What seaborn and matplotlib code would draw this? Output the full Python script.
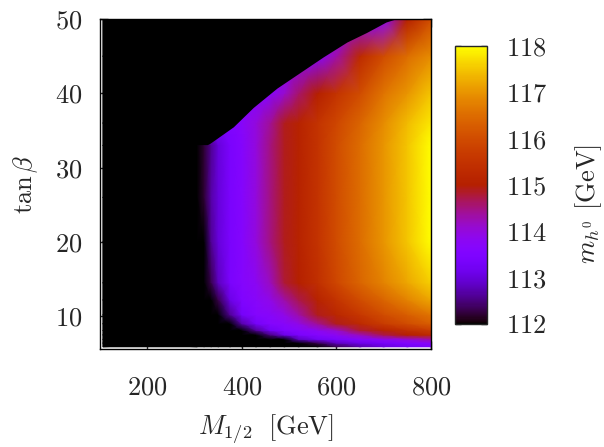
import numpy as np
import matplotlib
matplotlib.use("Agg")
import matplotlib.pyplot as plt
import seaborn as sns

sns.set_style("ticks")
plt.rcParams['font.family'] = 'cmr10'
plt.rcParams['mathtext.fontset'] = 'cm'
plt.rcParams['axes.formatter.use_mathtext'] = True

# grid nodes
m_half = [106, 305, 320, 335, 350, 375, 400, 430, 460, 490, 520, 560, 600, 650, 700, 750, 800]
tan_beta = [5.9, 6.4, 6.9, 7.5, 8.1, 9.0, 10.2, 12.2, 14.5, 20, 26, 33, 36, 40, 45, 50]

# m_h0 [GeV] per tan(beta) row, one value per M_1/2 node (<112 shows black)
mh_t5_9 = [110, 110, 110, 110, 110, 110, 110, 110, 110, 110, 110, 111.5, 112.3, 112.7, 113.0, 113.2, 113.4]
mh_t6_4 = [110, 110, 110, 110, 110, 110, 110, 110, 110, 110, 111.3, 112.3, 112.8, 113.1, 113.3, 113.5, 113.7]
mh_t6_9 = [110, 110, 110, 110, 110, 110, 110, 110, 111.0, 112.0, 112.8, 113.2, 113.4, 113.6, 113.8, 114.0, 114.3]
mh_t7_5 = [110, 110, 110, 110, 110, 110, 110, 111.6, 112.5, 113.1, 113.4, 113.6, 113.8, 114.2, 114.7, 115.0, 115.3]
mh_t8_1 = [110, 110, 110, 110, 110, 110, 111.6, 112.6, 113.2, 113.5, 113.6, 113.8, 114.1, 114.8, 115.1, 115.4, 115.7]
mh_t9 = [110, 110, 110, 110, 110, 111.5, 112.7, 113.3, 113.6, 113.7, 113.9, 114.4, 114.9, 115.3, 115.7, 116.0, 116.3]
mh_t10 = [110, 110, 110, 110, 111.2, 112.6, 113.3, 113.6, 113.7, 113.9, 114.3, 114.9, 115.2, 115.6, 116.0, 116.3, 116.6]
mh_t12 = [110, 110, 110, 111.0, 112.3, 113.1, 113.5, 113.7, 113.9, 114.3, 114.7, 115.1, 115.5, 116.0, 116.4, 116.8, 117.2]
mh_t14 = [110, 110, 110.5, 112.3, 112.8, 113.4, 113.6, 113.8, 114.2, 114.8, 115.0, 115.4, 115.9, 116.4, 116.8, 117.2, 117.6]
mh_t20 = [110, 110, 112.0, 112.6, 113.0, 113.4, 113.6, 114.0, 114.5, 114.9, 115.1, 115.5, 116.0, 116.5, 117.0, 117.5, 118.0]
mh_t26 = [110, 110, 112.2, 112.7, 113.0, 113.4, 113.6, 114.0, 114.5, 114.9, 115.1, 115.5, 116.0, 116.5, 117.0, 117.5, 118.0]
mh_t33 = [110, 110, 112.2, 112.6, 113.0, 113.4, 113.6, 114.0, 114.5, 114.9, 115.1, 115.5, 116.0, 116.5, 117.0, 117.5, 118.0]
mh_t36 = [110, 110, 113.5, 113.5, 113.5, 113.5, 113.7, 114.0, 114.4, 114.9, 115.1, 115.5, 115.9, 116.4, 116.9, 117.4, 117.8]
mh_t40 = [110, 110, 110, 113.6, 113.6, 113.6, 113.6, 113.6, 113.7, 114.1, 114.6, 115.0, 115.5, 116.0, 116.6, 117.0, 117.5]
mh_t45 = [110, 110, 110, 110, 110, 113.6, 113.6, 113.6, 113.6, 113.6, 113.6, 113.6, 114.3, 115.3, 116.0, 116.5, 116.9]
mh_t50 = [110, 110, 110, 110, 110, 110, 110, 110, 113.6, 113.6, 113.6, 113.6, 113.6, 113.6, 113.7, 115.0, 116.0]

# upper edge of the allowed region (black above)
edge_m = [106, 327, 333, 382, 424, 474, 523, 572, 622, 664, 705, 725]
edge_tb = [33.1, 33.1, 33.3, 35.5, 38.1, 40.7, 42.8, 44.9, 46.9, 48.2, 49.6, 50]

cb_ticks = [112, 113, 114, 115, 116, 117, 118]

mh0 = np.array([mh_t5_9, mh_t6_4, mh_t6_9, mh_t7_5, mh_t8_1, mh_t9, mh_t10, mh_t12,
                mh_t14, mh_t20, mh_t26, mh_t33, mh_t36, mh_t40, mh_t45, mh_t50])

fig = plt.figure(figsize=(6.04, 4.47), dpi=100)
ax = fig.add_axes([0.1656, 0.2192, 0.5480, 0.7383])
cmap = sns.color_palette("gnuplot", as_cmap=True)

mesh = ax.pcolormesh(m_half, tan_beta, mh0, cmap=cmap, vmin=112, vmax=118,
                     shading='gouraud', antialiased=False)
ax.fill_between(edge_m, edge_tb, 50, color='black', linewidth=0)

ax.set_xlim(100, 800)
ax.set_ylim(5.6, 50)
ax.set_xticks([200, 400, 600, 800])
ax.set_yticks([10, 20, 30, 40, 50])
ax.tick_params(direction='in', length=6, width=1, top=True, right=True, labelsize=19)
ax.tick_params(axis='x', pad=19)
ax.tick_params(axis='y', pad=13)
for s in ax.spines.values():
    s.set_linewidth(1)
    s.set_color('black')

ax.set_xlabel(r'$M_{1/2}\;$ [GeV]', fontsize=19)
ax.xaxis.set_label_coords(0.5, -0.193)
ax.set_ylabel(r'$\tan\beta$', fontsize=19)
ax.yaxis.set_label_coords(-0.18, 0.5)

# colorbar
cax = fig.add_axes([0.7533, 0.2752, 0.0530, 0.6219])
cb = fig.colorbar(mesh, cax=cax, ticks=cb_ticks)
cb.outline.set_linewidth(1)
cax.tick_params(direction='in', length=4, width=1, left=True, right=True, labelsize=19, pad=14)
cb.set_label(r'$m_{h^0}$ [GeV]', fontsize=19)
cax.yaxis.set_label_coords(3.7, 0.43)

fig.savefig('out.png', dpi=100)
